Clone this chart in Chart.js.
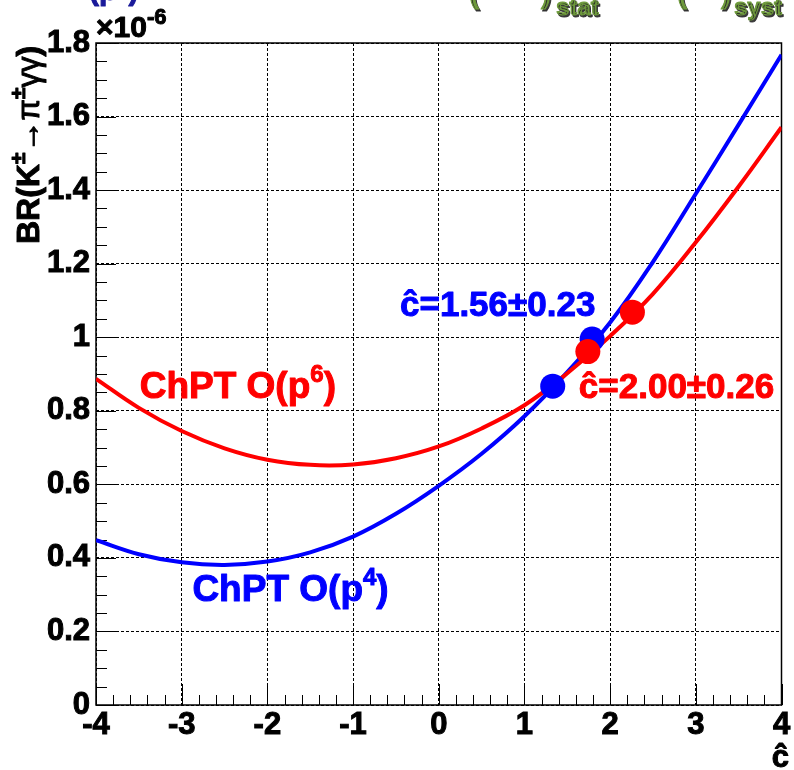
<!DOCTYPE html>
<html>
<head>
<meta charset="utf-8">
<script src="https://cdn.jsdelivr.net/npm/chart.js@4.4.1/dist/chart.umd.min.js"></script>
<style>
  html, body { margin: 0; padding: 0; background: #fff; }
  #wrap { width: 794px; height: 770px; }
</style>
</head>
<body>
<div id="wrap"><canvas id="brChart" width="794" height="770"></canvas></div>
<script>
// c-hat values and BR (in units of 1e-6)
const cHat = [-4, -3.5, -3, -2.5, -2, -1.5, -1, -0.5, 0, 0.5, 1, 1.5, 2, 2.5, 3, 3.5, 4];
const brP4 = [0.448, 0.410, 0.388, 0.381, 0.390, 0.415, 0.458, 0.520, 0.596, 0.683, 0.785, 0.905, 1.040, 1.205, 1.390, 1.578, 1.768];
const brP6 = [0.887, 0.808, 0.745, 0.698, 0.667, 0.653, 0.654, 0.671, 0.703, 0.752, 0.815, 0.902, 1.003, 1.118, 1.258, 1.410, 1.571];

// measured c-hat ranges (central value +- error) with BR on each curve
const fitP4X = [1.33, 1.79];
const fitP4Y = [0.867, 0.995];
const fitP6X = [1.74, 2.26];
const fitP6Y = [0.961, 1.068];

const xTickLabels = ['-4', '-3', '-2', '-1', '0', '1', '2', '3', '4'];
const yTickLabels = ['0', '0.2', '0.4', '0.6', '0.8', '1', '1.2', '1.4', '1.6', '1.8'];

const FONT = '"Liberation Sans", Arial, Helvetica, sans-serif';
const BLUE = '#0000ff';
const RED = '#ff0000';

function pts(xs, ys) {
    return xs.map((x, i) => ({ x: x, y: ys[i] }));
}

// fill + thin stroke, the ROOT fonts are a bit heavier than canvas bold
function heavyText(ctx, t, x, y, color, sw) {
    ctx.fillStyle = color;
    ctx.strokeStyle = color;
    ctx.lineWidth = sw === undefined ? 1 : sw;
    ctx.fillText(t, x, y);
    if (ctx.lineWidth > 0) ctx.strokeText(t, x, y);
}

// draws a list of text runs one after another (for superscripts etc.)
function drawRuns(ctx, x, y, runs, color, sw) {
    let cx = x;
    runs.forEach(r => {
        ctx.font = r.font;
        heavyText(ctx, r.t, cx, y + (r.dy || 0), r.color || color, sw);
        cx += ctx.measureText(r.t).width;
    });
}

// ROOT-like frame and inward ticks
const framePlugin = {
    id: 'frame',
    beforeDatasetsDraw(chart) {
        const { ctx, chartArea: a, scales: { x, y } } = chart;
        ctx.save();
        ctx.strokeStyle = '#000';
        ctx.lineWidth = 1;
        ctx.beginPath();
        for (let v = 0; v <= 1.8001; v += 0.05) {
            const py = Math.round(y.getPixelForValue(v)) + 0.5;
            const major = Math.abs(v / 0.2 - Math.round(v / 0.2)) < 1e-6;
            ctx.moveTo(a.left, py);
            ctx.lineTo(a.left + (major ? 20 : 11), py);
        }
        for (let v = -4; v <= 4.0001; v += 0.2) {
            const px = Math.round(x.getPixelForValue(v)) + 0.5;
            const major = Math.abs(v - Math.round(v)) < 1e-6;
            ctx.moveTo(px, a.bottom);
            ctx.lineTo(px, a.bottom - (major ? 21 : 10));
        }
        ctx.stroke();
        ctx.lineWidth = 1.5;
        ctx.strokeRect(a.left, a.top, a.right - a.left, a.bottom - a.top);
        ctx.restore();
    }
};

const textPlugin = {
    id: 'texts',
    afterDatasetsDraw(chart) {
        const { ctx, scales: { x, y } } = chart;
        ctx.save();
        ctx.textBaseline = 'alphabetic';
        ctx.textAlign = 'left';
        ctx.lineJoin = 'round';

        const b38 = 'bold 37px ' + FONT;
        const b24 = 'bold 24px ' + FONT;
        drawRuns(ctx, x.getPixelForValue(-3.49), y.getPixelForValue(0.835),
            [{ t: 'ChPT O(p', font: b38 }, { t: '6', font: b24, dy: -16 }, { t: ')', font: b38 }], RED);
        drawRuns(ctx, x.getPixelForValue(-2.875), y.getPixelForValue(0.283),
            [{ t: 'ChPT O(p', font: b38 }, { t: '4', font: b24, dy: -16 }, { t: ')', font: b38 }], BLUE);

        ctx.font = 'bold 35px ' + FONT;
        heavyText(ctx, '\u0109=1.56\u00b10.23', x.getPixelForValue(-0.452), y.getPixelForValue(1.058), BLUE);
        heavyText(ctx, '\u0109=2.00\u00b10.26', x.getPixelForValue(1.635), y.getPixelForValue(0.835), RED);

        // x axis title
        ctx.font = 'bold 31px ' + FONT;
        ctx.textAlign = 'right';
        heavyText(ctx, '\u0109', 789, 767, '#000');

        // exponent
        ctx.textAlign = 'left';
        drawRuns(ctx, 96, 37, [
            { t: '\u00d710', font: 'bold 30px ' + FONT },
            { t: '-6', font: 'bold 22px ' + FONT, dy: -13 }
        ], '#000');

        // y axis title, rotated
        ctx.save();
        ctx.translate(39, 244);
        ctx.rotate(-Math.PI / 2);
        drawRuns(ctx, 0, 0, [
            { t: 'BR(K', font: 'bold 32px ' + FONT },
            { t: '\u00b1', font: 'bold 21px ' + FONT, dy: -14 },
            { t: '\u2192', font: 'bold 32px ' + FONT },
            { t: '\u03c0', font: '31px ' + FONT },
            { t: '\u00b1', font: 'bold 21px ' + FONT, dy: -14 },
            { t: '\u03b3\u03b3', font: '31px ' + FONT },
            { t: ')', font: 'bold 32px ' + FONT }
        ], '#000');
        ctx.restore();

        // cut-off title remains at the very top
        drawRuns(ctx, 89, 0, [
            { t: '(p', font: 'bold 30px ' + FONT },
            { t: '4', font: 'bold 20px ' + FONT, dy: -12 },
            { t: ')', font: 'bold 30px ' + FONT }
        ], '#1a1a9a');
        ctx.shadowColor = 'rgba(40,40,40,0.9)';
        ctx.shadowOffsetX = 1.5;
        ctx.shadowOffsetY = 1.5;
        ctx.font = 'bold 30px ' + FONT;
        const green = '#6e9a3c';
        heavyText(ctx, '(', 469, 3, green, 0);
        heavyText(ctx, ')', 541, 3, green, 0);
        heavyText(ctx, '(', 677, 3, green, 0);
        heavyText(ctx, ')', 721, 3, green, 0);
        ctx.font = 'bold 24px ' + FONT;
        heavyText(ctx, 'stat', 556, 15, green, 0);
        heavyText(ctx, 'syst', 734, 15, green, 0);
        ctx.restore();
    }
};

new Chart(document.getElementById('brChart').getContext('2d'), {
    type: 'scatter',
    data: {
        datasets: [
            {
                label: 'ChPT O(p4)',
                data: pts(cHat, brP4),
                showLine: true,
                borderColor: BLUE,
                borderWidth: 4,
                pointRadius: 0,
                tension: 0.4,
                order: 3
            },
            {
                label: 'ChPT O(p6)',
                data: pts(cHat, brP6),
                showLine: true,
                borderColor: RED,
                borderWidth: 4,
                pointRadius: 0,
                tension: 0.4,
                order: 2
            },
            {
                label: 'c-hat O(p4)',
                data: pts(fitP4X, fitP4Y),
                backgroundColor: BLUE,
                borderWidth: 0,
                pointRadius: 12.5,
                order: 1
            },
            {
                label: 'c-hat O(p6)',
                data: pts(fitP6X, fitP6Y),
                backgroundColor: RED,
                borderWidth: 0,
                pointRadius: 12.5,
                order: 0
            }
        ]
    },
    options: {
        responsive: false,
        animation: false,
        devicePixelRatio: 1,
        layout: { padding: { top: 43, right: 8, left: 0, bottom: 0 } },
        plugins: {
            legend: { display: false },
            tooltip: { enabled: false }
        },
        scales: {
            x: {
                type: 'linear',
                min: -4,
                max: 4,
                afterFit: s => { s.height = 65; },
                ticks: {
                    stepSize: 1,
                    padding: 2,
                    color: '#000',
                    textStrokeColor: '#000',
                    textStrokeWidth: 1,
                    font: { family: FONT, size: 31, weight: 'bold' },
                    callback: (v, i) => xTickLabels[i]
                },
                grid: { color: '#000', lineWidth: 1, drawTicks: false },
                border: { display: false, dash: [3, 2] }
            },
            y: {
                min: 0,
                max: 1.8,
                afterFit: s => { s.width = 96; },
                ticks: {
                    stepSize: 0.2,
                    padding: 6,
                    color: '#000',
                    textStrokeColor: '#000',
                    textStrokeWidth: 1,
                    font: { family: FONT, size: 31, weight: 'bold' },
                    callback: (v, i) => yTickLabels[i]
                },
                grid: { color: '#000', lineWidth: 1, drawTicks: false },
                border: { display: false, dash: [3, 2] }
            }
        }
    },
    plugins: [framePlugin, textPlugin]
});
</script>
</body>
</html>
